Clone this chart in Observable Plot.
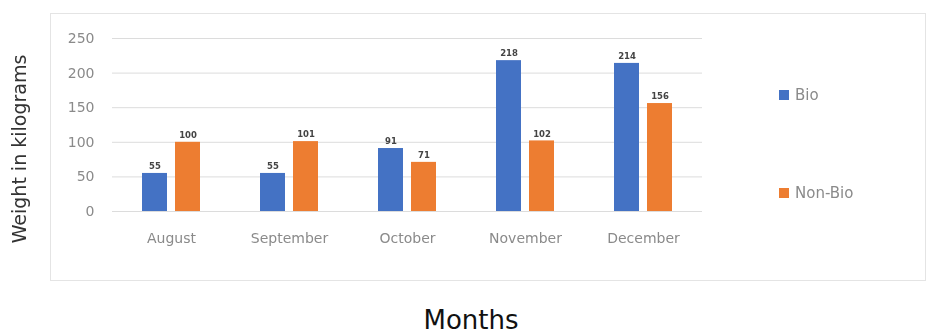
<!DOCTYPE html>
<html>
<head>
<meta charset="utf-8">
<script src="https://cdn.jsdelivr.net/npm/d3@7"></script>
<script src="https://cdn.jsdelivr.net/npm/@observablehq/plot@0.6"></script>
<style>
  html, body { margin: 0; padding: 0; background: #fff; }
  #page { position: relative; width: 928px; height: 335px; overflow: hidden; font-family: "DejaVu Sans", sans-serif; }
  #panel { position: absolute; left: 0; top: 0; width: 928px; height: 290px; filter: blur(0.6px); }
  #box { position: absolute; left: 50px; top: 13px; width: 874px; height: 266px; border: 1px solid #e4e4e4; }
  #chart { position: absolute; left: 0; top: 0; }
  #ytitle { position: absolute; left: -101px; top: 138px; width: 240px; height: 22px; line-height: 22px;
            text-align: center; transform: rotate(-90deg); font-size: 19px; color: #333; white-space: nowrap; }
  .key { position: absolute; left: 779px; display: flex; align-items: center; font-size: 15px; color: #8a8a8a; }
  .key span.sw { display: inline-block; width: 10px; height: 10px; margin-right: 6px; }
  #xtitle { position: absolute; left: 371px; top: 307px; width: 200px; text-align: center;
            font-size: 26px; line-height: 26px; color: #111; }
</style>
</head>
<body>
<div id="page">
  <div id="panel">
    <div id="box"></div>
    <div id="chart"></div>
    <div id="ytitle">Weight in kilograms</div>
    <div class="key" style="top:86px"><span class="sw" style="background:#4472C4"></span>Bio</div>
    <div class="key" style="top:184px"><span class="sw" style="background:#ED7D31"></span>Non-Bio</div>
  </div>
  <div id="xtitle">Months</div>
</div>
<script>
// Monthly collected waste, in kilograms
const months = ["August", "September", "October", "November", "December"];
const series = ["Bio", "Non-Bio"];
const bio = [55, 55, 91, 218, 214];
const nonBio = [100, 101, 71, 102, 156];
const yTicks = [0, 50, 100, 150, 200, 250];
const colors = ["#4472C4", "#ED7D31"];

const rows = months.flatMap((m, i) => [
  {month: m, series: series[0], value: bio[i]},
  {month: m, series: series[1], value: nonBio[i]}
]);

const chart = Plot.plot({
  width: 928,
  height: 290,
  marginTop: 38,
  marginBottom: 79,
  marginLeft: 111,
  marginRight: 225,
  style: {fontFamily: "DejaVu Sans, sans-serif", fontSize: "14px", color: "#8a8a8a", background: "transparent"},
  fx: {domain: months, padding: 0, label: null, tickSize: 0, tickPadding: 22, axis: "bottom"},
  x: {domain: series, axis: null, paddingInner: 0.235, paddingOuter: 0.86},
  y: {domain: [0, 250], ticks: yTicks, tickSize: 0, tickPadding: 18, label: null},
  color: {domain: series, range: colors},
  marks: [
    Plot.ruleY(yTicks, {stroke: "#dcdcdc", strokeWidth: 1}),
    Plot.barY(rows, {fx: "month", x: "series", y: "value", fill: "series"}),
    Plot.text(rows, {fx: "month", x: "series", y: "value", text: d => String(d.value),
      dy: -7, fontSize: 8.5, fontWeight: "bold", fill: "#444"})
  ]
});
document.getElementById("chart").appendChild(chart);
</script>
</body>
</html>
